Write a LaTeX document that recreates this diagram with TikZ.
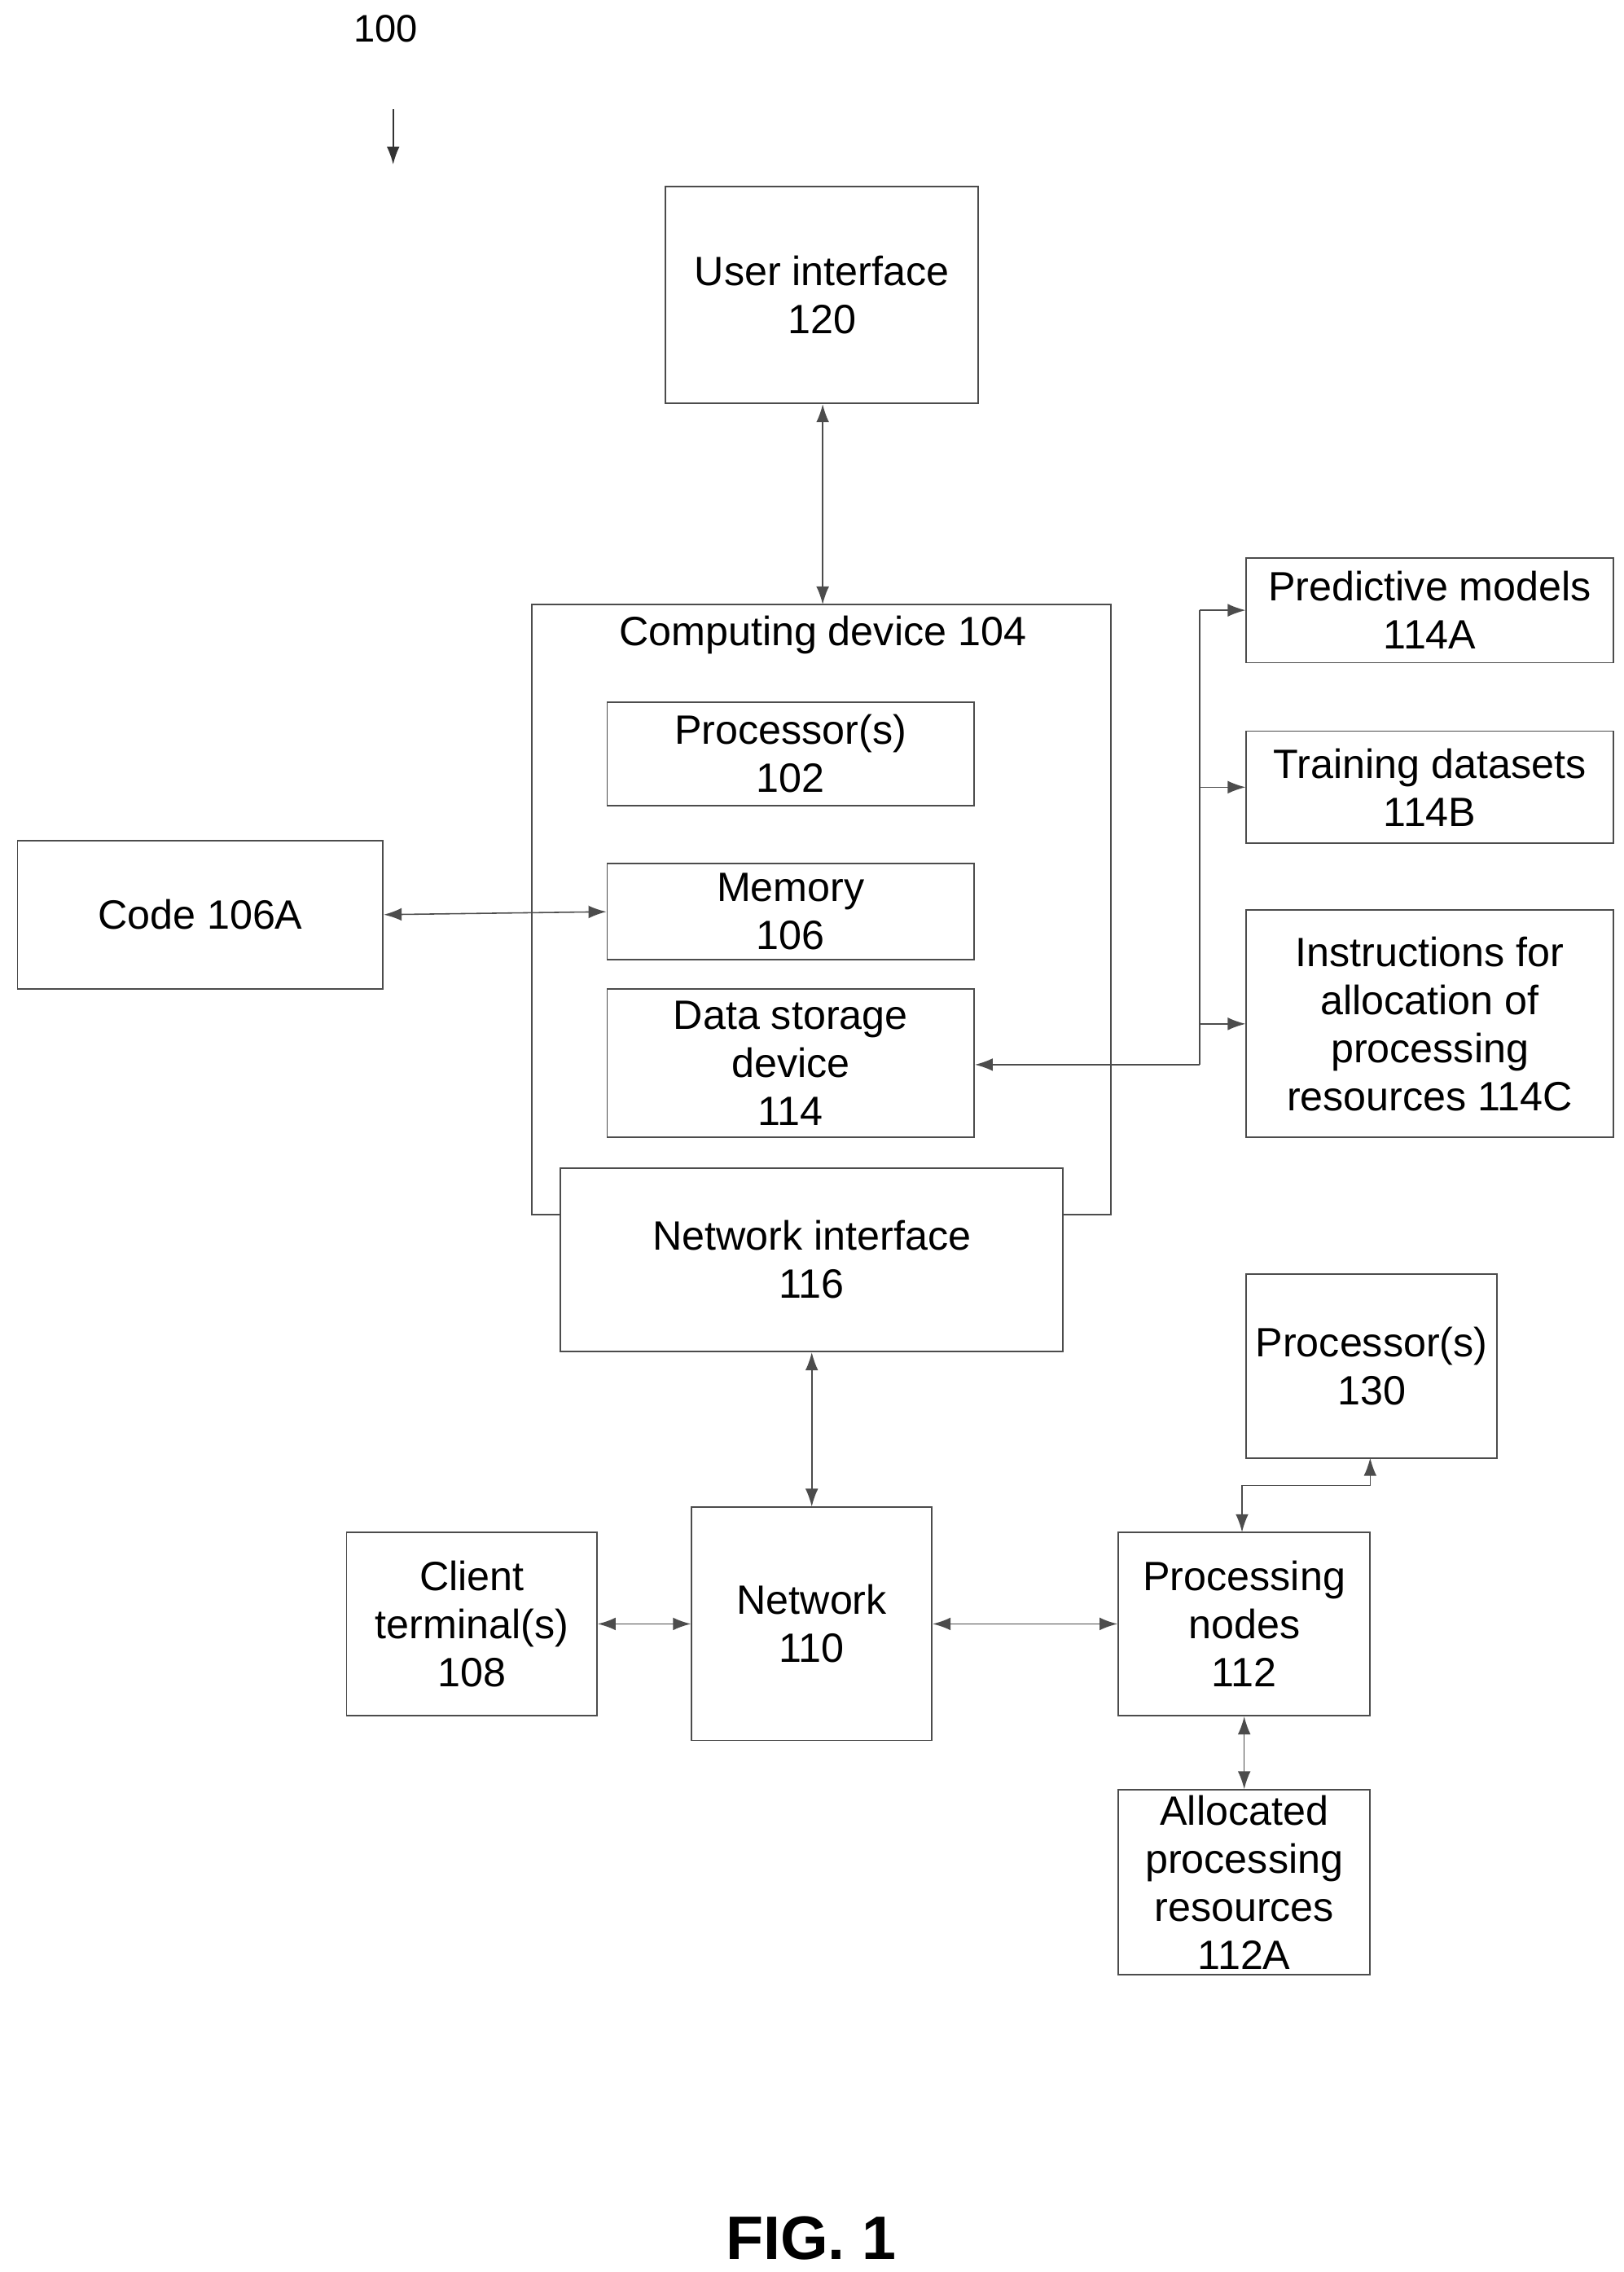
\documentclass[tikz,border=0pt]{standalone}
\usepackage{fontspec}
\setmainfont{Liberation Sans}
\usetikzlibrary{arrows.meta}

\begin{document}
\begin{tikzpicture}[x=0.02cm,y=-0.02cm,
    box/.style={draw=black!70,line width=0.6pt,rectangle,align=center,inner sep=2pt,
      font=\fontsize{16pt}{18.8pt}\selectfont},
    sz/.style 2 args={minimum width={#1*0.02cm},minimum height={#2*0.02cm}},
    link/.style={draw=black!70,line width=0.5pt,{Latex[length=7pt,width=5pt]}-{Latex[length=7pt,width=5pt]}}]
    \useasboundingbox (0,0) rectangle (1115,1560);

    % label and figure title
    \node[font=\fontsize{15pt}{18pt}\rmfamily] (num) at (265,20) {100};
    \coordinate (numtop) at (270,75);
    \coordinate (numbot) at (270,113);
    \draw[draw=black!80,line width=0.6pt,-{Latex[length=7pt,width=5pt]}] (numtop) -- (numbot);
    \node[font=\fontsize{24pt}{28pt}\selectfont\bfseries] (fig) at (557,1537) {FIG. 1};

    % computing device outline
    \draw[draw=black!70,line width=0.6pt] (385,834) -- (365,834) -- (365,415) -- (763,415) -- (763,834) -- (730,834);
    \node[font=\fontsize{16pt}{18.8pt}\selectfont] (dev) at (565,436) {Computing device 104};

    % boxes
    \node[box,sz={215}{149}] (ui) at (564.5,202.5) {User interface\\120};
    \node[box,sz={252}{71}] (proc) at (543,517.5) {Processor(s)\\102};
    \node[box,sz={252}{66}] (mem) at (543,626) {Memory\\106};
    \node[box,sz={252}{102}] (store) at (543,730) {Data storage\\device\\114};
    \node[box,sz={345}{126},fill=white] (nic) at (557.5,865) {Network interface\\116};
    \node[box,sz={251}{102}] (code) at (137.5,628) {Code 106A};
    \node[box,sz={252}{72}] (pm) at (982,419) {Predictive models\\114A};
    \node[box,sz={252}{77}] (td) at (982,540.5) {Training datasets\\114B};
    \node[box,sz={252}{156}] (ins) at (982,703) {Instructions for\\allocation of\\processing\\resources 114C};
    \node[box,sz={172}{126}] (cpu) at (942,938) {Processor(s)\\130};
    \node[box,sz={172}{126}] (client) at (324,1115) {Client\\terminal(s)\\108};
    \node[box,sz={165}{160}] (net) at (557.5,1115) {Network\\110};
    \node[box,sz={173}{126}] (pn) at (854.5,1115) {Processing\\nodes\\112};
    \node[box,sz={173}{127}] (alloc) at (854.5,1292.5) {Allocated\\processing\\resources\\112A};

    % connectors
    \coordinate (devtop) at (565,415);
    \draw[link] (ui.south -| devtop) -- (devtop);
    \draw[link] (code.east) -- (mem.west);
    \coordinate (bus) at (824,731);
    \draw[draw=black!70,line width=0.5pt,{Latex[length=7pt,width=5pt]}-] (store.east |- bus) -- (bus);
    \draw[draw=black!70,line width=0.5pt] (bus) -- (bus |- pm.west);
    \draw[draw=black!70,line width=0.5pt,-{Latex[length=7pt,width=5pt]}] (bus |- pm.west) -- (pm.west);
    \draw[draw=black!70,line width=0.5pt,-{Latex[length=7pt,width=5pt]}] (bus |- td.west) -- (td.west);
    \draw[draw=black!70,line width=0.5pt,-{Latex[length=7pt,width=5pt]}] (bus |- ins.west) -- (ins.west);
    \draw[link] (nic.south) -- (nic.south |- net.north);
    \draw[link] (client.east) -- (net.west);
    \draw[link] (net.east) -- (pn.west);
    \coordinate (pntop) at (853,1052);
    \coordinate (cpubot) at (941,1001);
    \draw[link] (pntop) -- (853,1020) -- (941,1020) -- (cpubot);
    \draw[link] (pn.south) -- (alloc.north);
\end{tikzpicture}
\end{document}
